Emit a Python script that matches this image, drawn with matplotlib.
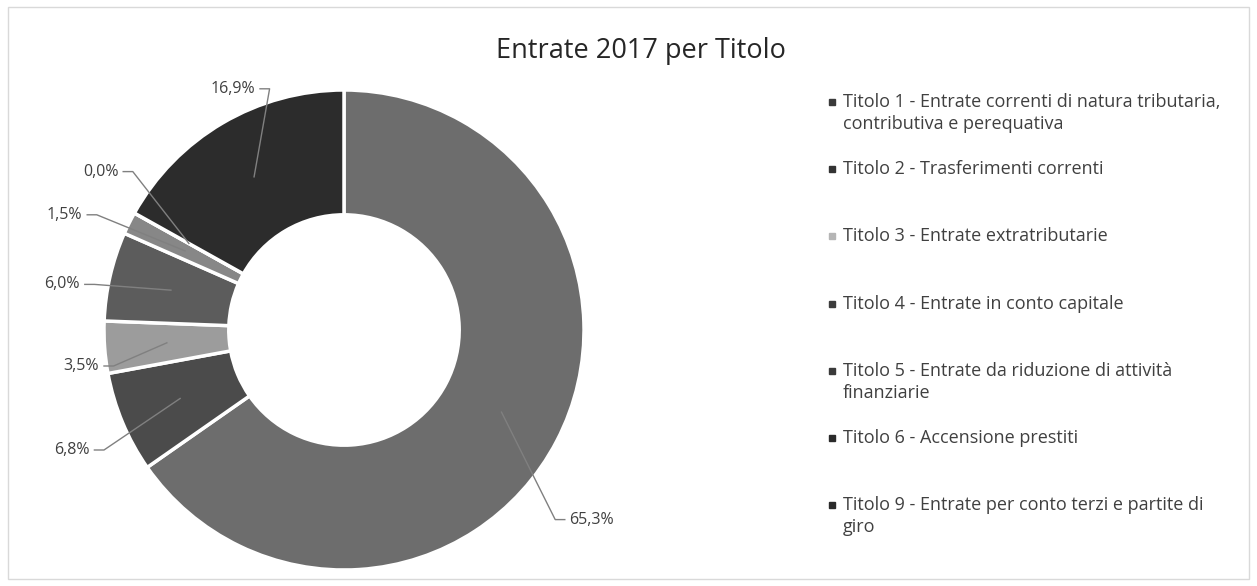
import numpy as np
import matplotlib
matplotlib.use("Agg")
import matplotlib.pyplot as plt
from matplotlib.patches import Rectangle

plt.rcParams['font.family'] = ['Open Sans', 'DejaVu Sans']

# data
titoli = ['Titolo 1 - Entrate correnti di natura tributaria,\ncontributiva e perequativa',
          'Titolo 2 - Trasferimenti correnti',
          'Titolo 3 - Entrate extratributarie',
          'Titolo 4 - Entrate in conto capitale',
          'Titolo 5 - Entrate da riduzione di attività\nfinanziarie',
          'Titolo 6 - Accensione prestiti',
          'Titolo 9 - Entrate per conto terzi e partite di\ngiro']
percentuali = [65.3, 6.8, 3.5, 6.0, 1.5, 0.0, 16.9]
etichette = ['65,3%', '6,8%', '3,5%', '6,0%', '1,5%', '0,0%', '16,9%']
colori = ['#6d6d6d', '#4b4b4b', '#9c9c9c', '#5c5c5c', '#878787', '#1e1e1e', '#2c2c2c']
colori_legenda = ['#3a3a3a', '#333333', '#b5b5b5', '#3c3c3c', '#3a3a3a', '#2a2a2a', '#2a2a2a']

# label positions (layout), in data units of the pie axes
pos_label = [(0.94, -0.79), (-1.06, -0.50), (-1.02, -0.15), (-1.10, 0.19),
             (-1.09, 0.48), (-0.94, 0.66), (-0.37, 1.005)]

fig = plt.figure(figsize=(12.57, 5.86), dpi=100)
fig.patches.append(Rectangle((0.006, 0.012), 0.988, 0.976, transform=fig.transFigure,
                             fill=False, edgecolor='#d9d9d9', linewidth=1))

ax = fig.add_axes([0, 0, 688 / 1257, 1])
wedges, _ = ax.pie(percentuali, colors=colori, startangle=90, counterclock=False,
                   radius=1.0, wedgeprops=dict(width=0.52, edgecolor='white', linewidth=2.5))
ax.set_xlim(-1.4333, 1.4333)
ax.set_ylim(-1.0667, 1.375)
ax.set_aspect('auto')
ax.axis('off')

for w, lab, (tx, ty) in zip(wedges, etichette, pos_label):
    ang = np.deg2rad((w.theta1 + w.theta2) / 2)
    px, py = 0.74 * np.cos(ang), 0.74 * np.sin(ang)
    if tx < 0:
        ha = 'right'
        ex = tx + 0.06
        x_start = tx + 0.02
    else:
        ha = 'left'
        ex = tx - 0.06
        x_start = tx - 0.02
    ax.plot([x_start, ex, px], [ty, ty, py], color='#808080', linewidth=1)
    ax.text(tx, ty, lab, ha=ha, va='center', fontsize=11.5, color='#404040')

fig.text(0.510, 0.913, 'Entrate 2017 per Titolo', ha='center', va='center',
         fontsize=19.5, color='#262626')

# legend drawn by hand
y0 = 1 - 102 / 586
dy = 67.2 / 586
for i, (t, c) in enumerate(zip(titoli, colori_legenda)):
    y = y0 - i * dy
    fig.patches.append(Rectangle((829 / 1257, y - 3 / 586), 6 / 1257, 6 / 586,
                                 transform=fig.transFigure, facecolor=c, edgecolor=c))
    fig.text(843 / 1257, y + 9 / 586, t, ha='left', va='top', fontsize=13,
             color='#404040', linespacing=1.3)

fig.savefig('out.png', dpi=100)
